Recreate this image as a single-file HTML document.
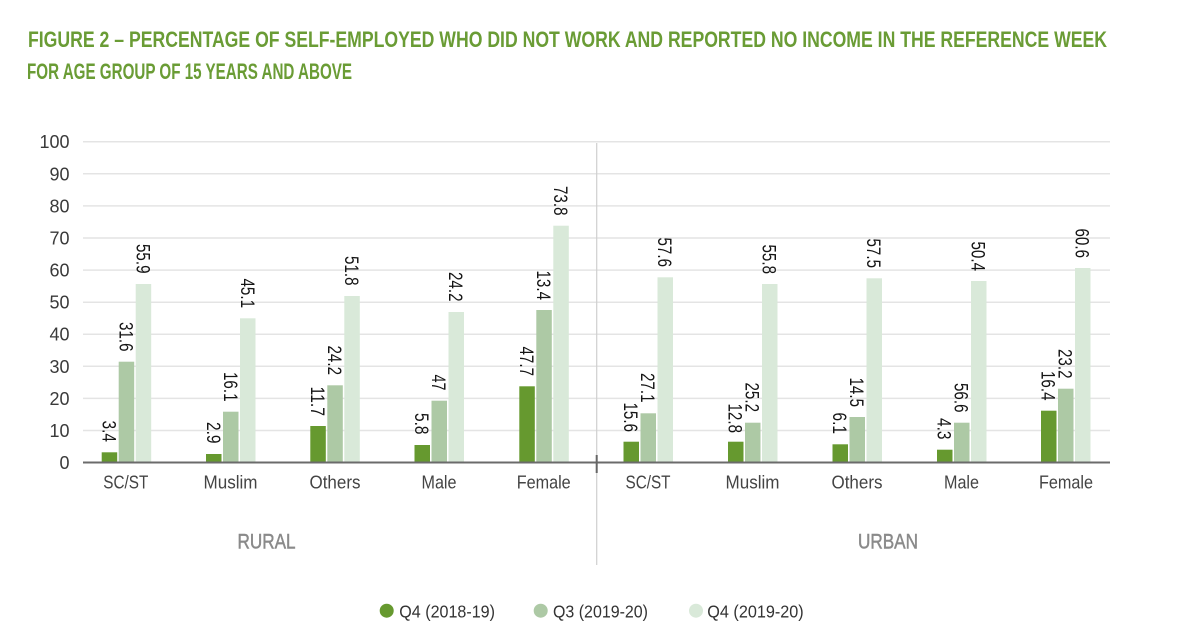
<!DOCTYPE html>
<html><head><meta charset="utf-8"><style>
html,body{margin:0;padding:0;background:#fff;}
svg{display:block;}
</style></head><body>
<svg width="1200" height="644" viewBox="0 0 1200 644" xmlns="http://www.w3.org/2000/svg" font-family="Liberation Sans, sans-serif">
<rect width="1200" height="644" fill="#fff"/>
<!-- Title -->
<text x="28" y="47" font-size="22" font-weight="bold" fill="#6a9c35" textLength="1079" lengthAdjust="spacingAndGlyphs">FIGURE 2 – PERCENTAGE OF SELF-EMPLOYED WHO DID NOT WORK AND REPORTED NO INCOME IN THE REFERENCE WEEK</text>
<text x="27" y="79" font-size="22" font-weight="bold" fill="#6a9c35" textLength="325" lengthAdjust="spacingAndGlyphs">FOR AGE GROUP OF 15 YEARS AND ABOVE</text>

<!-- Gridlines -->
<g stroke="#e4e4e4" stroke-width="1.5">
<line x1="83" y1="141.7" x2="1110" y2="141.7"/>
<line x1="83" y1="173.8" x2="1110" y2="173.8"/>
<line x1="83" y1="205.9" x2="1110" y2="205.9"/>
<line x1="83" y1="238" x2="1110" y2="238"/>
<line x1="83" y1="270.1" x2="1110" y2="270.1"/>
<line x1="83" y1="302.2" x2="1110" y2="302.2"/>
<line x1="83" y1="334.2" x2="1110" y2="334.2"/>
<line x1="83" y1="366.3" x2="1110" y2="366.3"/>
<line x1="83" y1="398.4" x2="1110" y2="398.4"/>
<line x1="83" y1="430.5" x2="1110" y2="430.5"/>
</g>

<!-- Y labels -->
<g font-size="18" fill="#3a3a3a" text-anchor="end">
<text x="69.5" y="148.2">100</text>
<text x="69.5" y="180.3">90</text>
<text x="69.5" y="212.4">80</text>
<text x="69.5" y="244.5">70</text>
<text x="69.5" y="276.6">60</text>
<text x="69.5" y="308.7">50</text>
<text x="69.5" y="340.7">40</text>
<text x="69.5" y="372.8">30</text>
<text x="69.5" y="404.9">20</text>
<text x="69.5" y="437">10</text>
<text x="69.5" y="469">0</text>
</g>

<!-- Divider -->
<line x1="596.7" y1="143" x2="596.7" y2="565" stroke="#cfcfcf" stroke-width="1.2"/>

<!-- Bars -->
<g id="bars">
<rect x="101.7" y="452.3" width="15.5" height="10.2" fill="#66992f"/>
<rect x="118.7" y="361.7" width="15.5" height="100.8" fill="#adc9a5"/>
<rect x="135.7" y="284" width="15.5" height="178.5" fill="#d9e9d9"/>
<rect x="206" y="454" width="15.5" height="8.5" fill="#66992f"/>
<rect x="223" y="411.7" width="15.5" height="50.8" fill="#adc9a5"/>
<rect x="240" y="318.3" width="15.5" height="144.2" fill="#d9e9d9"/>
<rect x="310.3" y="426" width="15.5" height="36.5" fill="#66992f"/>
<rect x="327.3" y="385.3" width="15.5" height="77.2" fill="#adc9a5"/>
<rect x="344.3" y="296" width="15.5" height="166.5" fill="#d9e9d9"/>
<rect x="414.5" y="445" width="15.5" height="17.5" fill="#66992f"/>
<rect x="431.5" y="400.7" width="15.5" height="61.8" fill="#adc9a5"/>
<rect x="448.5" y="312" width="15.5" height="150.5" fill="#d9e9d9"/>
<rect x="519.3" y="386.3" width="15.5" height="76.2" fill="#66992f"/>
<rect x="536.3" y="310" width="15.5" height="152.5" fill="#adc9a5"/>
<rect x="553.3" y="225.7" width="15.5" height="236.8" fill="#d9e9d9"/>
<rect x="623.5" y="441.7" width="15.5" height="20.8" fill="#66992f"/>
<rect x="640.5" y="413.3" width="15.5" height="49.2" fill="#adc9a5"/>
<rect x="657.5" y="277.3" width="15.5" height="185.2" fill="#d9e9d9"/>
<rect x="728" y="441.7" width="15.5" height="20.8" fill="#66992f"/>
<rect x="745" y="422.7" width="15.5" height="39.8" fill="#adc9a5"/>
<rect x="762" y="284" width="15.5" height="178.5" fill="#d9e9d9"/>
<rect x="832.5" y="444.3" width="15.5" height="18.2" fill="#66992f"/>
<rect x="849.5" y="417" width="15.5" height="45.5" fill="#adc9a5"/>
<rect x="866.5" y="278.3" width="15.5" height="184.2" fill="#d9e9d9"/>
<rect x="937" y="449.7" width="15.5" height="12.8" fill="#66992f"/>
<rect x="954" y="422.7" width="15.5" height="39.8" fill="#adc9a5"/>
<rect x="971" y="281" width="15.5" height="181.5" fill="#d9e9d9"/>
<rect x="1041" y="410.7" width="15.5" height="51.8" fill="#66992f"/>
<rect x="1058" y="388.7" width="15.5" height="73.8" fill="#adc9a5"/>
<rect x="1075" y="268" width="15.5" height="194.5" fill="#d9e9d9"/>
</g>

<!-- Baseline axis -->
<line x1="83" y1="462.5" x2="1110" y2="462.5" stroke="#6b6b6b" stroke-width="2"/>
<line x1="596.7" y1="455" x2="596.7" y2="473" stroke="#666" stroke-width="2"/>

<!-- Data labels (rotated 90deg, reading top to bottom) -->
<g font-size="19" fill="#151515" text-anchor="end">
<text transform="translate(109.5,442) rotate(90)" y="7" textLength="21.5" lengthAdjust="spacingAndGlyphs">3.4</text>
<text transform="translate(126.5,351.5) rotate(90)" y="7" textLength="29.5" lengthAdjust="spacingAndGlyphs">31.6</text>
<text transform="translate(143.5,273.5) rotate(90)" y="7" textLength="29.5" lengthAdjust="spacingAndGlyphs">55.9</text>

<text transform="translate(213.8,443.5) rotate(90)" y="7" textLength="21.5" lengthAdjust="spacingAndGlyphs">2.9</text>
<text transform="translate(230.8,401.5) rotate(90)" y="7" textLength="29.5" lengthAdjust="spacingAndGlyphs">16.1</text>
<text transform="translate(247.8,308) rotate(90)" y="7" textLength="29.5" lengthAdjust="spacingAndGlyphs">45.1</text>

<text transform="translate(318,416) rotate(90)" y="7" textLength="29.5" lengthAdjust="spacingAndGlyphs">11.7</text>
<text transform="translate(335,375) rotate(90)" y="7" textLength="29.5" lengthAdjust="spacingAndGlyphs">24.2</text>
<text transform="translate(352,285.5) rotate(90)" y="7" textLength="29.5" lengthAdjust="spacingAndGlyphs">51.8</text>

<text transform="translate(422.2,434.5) rotate(90)" y="7" textLength="21.5" lengthAdjust="spacingAndGlyphs">5.8</text>
<text transform="translate(439.2,390.5) rotate(90)" y="7" textLength="16" lengthAdjust="spacingAndGlyphs">47</text>
<text transform="translate(456.2,301.5) rotate(90)" y="7" textLength="29.5" lengthAdjust="spacingAndGlyphs">24.2</text>

<text transform="translate(527,376) rotate(90)" y="7" textLength="29.5" lengthAdjust="spacingAndGlyphs">47.7</text>
<text transform="translate(544,300) rotate(90)" y="7" textLength="29.5" lengthAdjust="spacingAndGlyphs">13.4</text>
<text transform="translate(561,215.5) rotate(90)" y="7" textLength="29.5" lengthAdjust="spacingAndGlyphs">73.8</text>

<text transform="translate(631.2,432) rotate(90)" y="7" textLength="29.5" lengthAdjust="spacingAndGlyphs">15.6</text>
<text transform="translate(648.2,402.5) rotate(90)" y="7" textLength="29.5" lengthAdjust="spacingAndGlyphs">27.1</text>
<text transform="translate(665.2,267) rotate(90)" y="7" textLength="29.5" lengthAdjust="spacingAndGlyphs">57.6</text>

<text transform="translate(735.7,433) rotate(90)" y="7" textLength="29.5" lengthAdjust="spacingAndGlyphs">12.8</text>
<text transform="translate(752.7,412) rotate(90)" y="7" textLength="29.5" lengthAdjust="spacingAndGlyphs">25.2</text>
<text transform="translate(769.7,274) rotate(90)" y="7" textLength="29.5" lengthAdjust="spacingAndGlyphs">55.8</text>

<text transform="translate(840.2,434) rotate(90)" y="7" textLength="21.5" lengthAdjust="spacingAndGlyphs">6.1</text>
<text transform="translate(857.2,407) rotate(90)" y="7" textLength="29.5" lengthAdjust="spacingAndGlyphs">14.5</text>
<text transform="translate(874.2,268) rotate(90)" y="7" textLength="29.5" lengthAdjust="spacingAndGlyphs">57.5</text>

<text transform="translate(944.7,439.5) rotate(90)" y="7" textLength="21.5" lengthAdjust="spacingAndGlyphs">4.3</text>
<text transform="translate(961.7,412.5) rotate(90)" y="7" textLength="29.5" lengthAdjust="spacingAndGlyphs">56.6</text>
<text transform="translate(978.7,271) rotate(90)" y="7" textLength="29.5" lengthAdjust="spacingAndGlyphs">50.4</text>

<text transform="translate(1048.7,400.5) rotate(90)" y="7" textLength="29.5" lengthAdjust="spacingAndGlyphs">16.4</text>
<text transform="translate(1065.7,378.5) rotate(90)" y="7" textLength="29.5" lengthAdjust="spacingAndGlyphs">23.2</text>
<text transform="translate(1082.7,258) rotate(90)" y="7" textLength="29.5" lengthAdjust="spacingAndGlyphs">60.6</text>
</g>

<!-- Category labels -->
<g font-size="18" fill="#444" text-anchor="middle">
<text x="125.8" y="488.5" textLength="45" lengthAdjust="spacingAndGlyphs">SC/ST</text>
<text x="230.5" y="488.5" textLength="54" lengthAdjust="spacingAndGlyphs">Muslim</text>
<text x="335" y="488.5" textLength="51" lengthAdjust="spacingAndGlyphs">Others</text>
<text x="439" y="488.5" textLength="35" lengthAdjust="spacingAndGlyphs">Male</text>
<text x="543.7" y="488.5" textLength="54" lengthAdjust="spacingAndGlyphs">Female</text>
<text x="648" y="488.5" textLength="45" lengthAdjust="spacingAndGlyphs">SC/ST</text>
<text x="752.5" y="488.5" textLength="54" lengthAdjust="spacingAndGlyphs">Muslim</text>
<text x="857" y="488.5" textLength="51" lengthAdjust="spacingAndGlyphs">Others</text>
<text x="961.5" y="488.5" textLength="35" lengthAdjust="spacingAndGlyphs">Male</text>
<text x="1066" y="488.5" textLength="54" lengthAdjust="spacingAndGlyphs">Female</text>
</g>

<!-- Section labels -->
<g font-size="21" fill="#8a8a8a" stroke="#8a8a8a" stroke-width="0.5" text-anchor="middle">
<text x="266.5" y="548.5" textLength="58" lengthAdjust="spacingAndGlyphs">RURAL</text>
<text x="888" y="548.5" textLength="60" lengthAdjust="spacingAndGlyphs">URBAN</text>
</g>

<!-- Legend -->
<circle cx="386.7" cy="610.7" r="7" fill="#66992f"/>
<circle cx="540.7" cy="610.7" r="7" fill="#adc9a5"/>
<circle cx="696" cy="610.7" r="7" fill="#d9e9d9"/>
<g font-size="17.5" fill="#333">
<text x="399.3" y="617.5" textLength="95.7" lengthAdjust="spacingAndGlyphs">Q4 (2018-19)</text>
<text x="553" y="617.5" textLength="95" lengthAdjust="spacingAndGlyphs">Q3 (2019-20)</text>
<text x="707.3" y="617.5" textLength="96.4" lengthAdjust="spacingAndGlyphs">Q4 (2019-20)</text>
</g>
</svg>
</body></html>
